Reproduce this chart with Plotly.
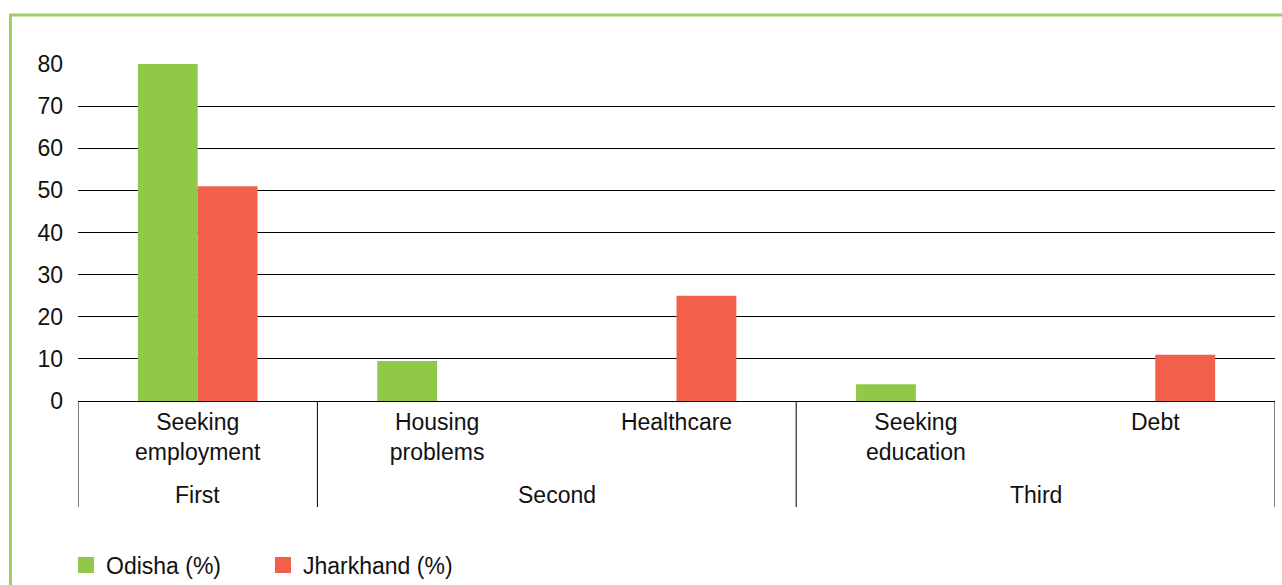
import plotly.graph_objects as go

groups = ["First", "Second", "Second", "Third", "Third"]
reasons = ["Seeking<br>employment", "Housing<br>problems", "Healthcare", "Seeking<br>education", "Debt"]
odisha = [80, 9.5, 0, 4, 0]
jharkhand = [51, 0, 25, 0, 11]
y_ticks = [0, 10, 20, 30, 40, 50, 60, 70, 80]

FONT = "Liberation Sans, Arial, sans-serif"
GREEN = "#92c847"
RED = "#f2604a"
FS = 23

W, H = 1282, 585
ml, mr, mt, mb = 78, 7, 64, 184
pw = W - ml - mr
ph = H - mt - mb

fig = go.Figure()
fig.add_trace(go.Bar(name="Odisha (%)", x=reasons, y=odisha, marker_color=GREEN,
                     marker_line_width=0, showlegend=False))
fig.add_trace(go.Bar(name="Jharkhand (%)", x=reasons, y=jharkhand, marker_color=RED,
                     marker_line_width=0, showlegend=False))
# legend entries with larger square swatches
for name, col in [("Odisha (%)", GREEN), ("Jharkhand (%)", RED)]:
    fig.add_trace(go.Scatter(name=name, x=[None], y=[None], mode="markers",
                             marker=dict(symbol="square", size=16, color=col), showlegend=True))

# group labels and dividers derived from the group list
bounds = [-0.5]
spans = []
start = 0
for i in range(1, len(groups) + 1):
    if i == len(groups) or groups[i] != groups[start]:
        spans.append((groups[start], start, i - 1))
        bounds.append(i - 0.5)
        start = i

div_bottom = -(507 - 401) / ph
for b in bounds:
    fig.add_shape(type="line", xref="x", yref="paper", x0=b, x1=b, y0=0, y1=div_bottom,
                  line=dict(color="black", width=1))
for name, a, b in spans:
    fig.add_annotation(x=(a + b) / 2, xref="x", y=-(495 - 401) / ph, yref="paper",
                       text=name, showarrow=False, yanchor="middle",
                       font=dict(size=FS, family=FONT, color="#111111"))

fig.update_layout(
    width=W, height=H,
    margin=dict(l=ml, r=mr, t=mt, b=mb, autoexpand=False),
    barmode="group", bargap=0.5, bargroupgap=0,
    plot_bgcolor="white", paper_bgcolor="white",
    font=dict(family=FONT, size=FS, color="#111111"),
    showlegend=True,
    legend=dict(orientation="h", x=(66 - ml) / pw, xanchor="left",
                yref="container", y=1 - 565 / H, yanchor="middle",
                font=dict(size=FS), itemsizing="trace", entrywidth=152, entrywidthmode="pixels",
                traceorder="normal"),
    xaxis=dict(type="category", showline=True, linecolor="black", linewidth=1,
               tickfont=dict(size=FS), showgrid=False, ticks="", automargin=False,
               range=[-0.5, len(reasons) - 0.5]),
    yaxis=dict(range=[0, 80], tickvals=y_ticks, showgrid=True, gridcolor="black", gridwidth=1,
               zeroline=True, zerolinecolor="black", zerolinewidth=1, showline=False,
               ticklabelstandoff=14, tickfont=dict(size=FS), automargin=False),
)

# outer green frame
fig.add_shape(type="rect", xref="paper", yref="paper",
              x0=(10.5 - ml) / pw, x1=(W + 20 - ml) / pw,
              y0=-(H + 20 - mt - ph) / ph, y1=1 + (mt - 15) / ph,
              line=dict(color="#9ccf5b", width=3), fillcolor="rgba(0,0,0,0)", layer="below")

fig.write_html("out.html", config={"displayModeBar": False},
               post_script="document.body.style.margin='0';document.body.style.overflow='hidden';")
